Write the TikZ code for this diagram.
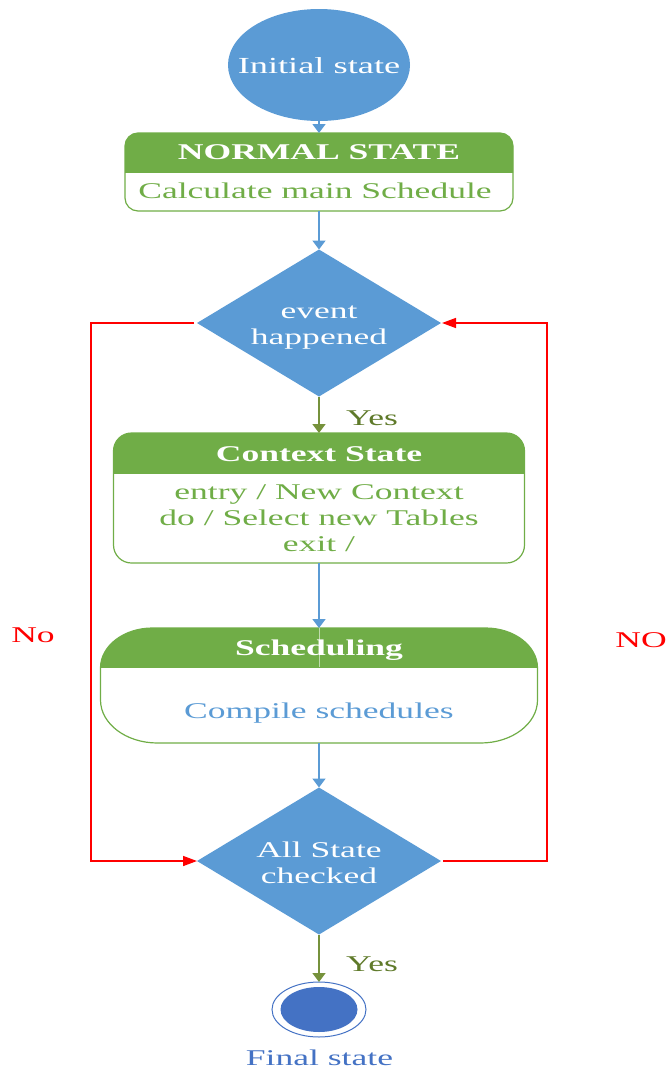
\documentclass[tikz,border=0pt]{standalone}
\usepackage{fontspec}
\setmainfont[FakeStretch=1.58]{Liberation Serif}
\usetikzlibrary{shapes.geometric,arrows.meta}
\definecolor{sblue}{HTML}{5B9BD5}
\definecolor{sgreen}{HTML}{70AD47}
\definecolor{dblue}{HTML}{4472C4}
\definecolor{olivearr}{HTML}{76923C}
\definecolor{olivetxt}{HTML}{5F7A2A}
\definecolor{sred}{HTML}{FF0000}
\begin{document}
\begin{tikzpicture}[x=1pt,y=-1pt,
  every node/.style={font=\fontsize{22.5}{26}\selectfont, inner sep=0pt, outer sep=0pt},
  box/.style={draw=none, inner sep=0pt},
  boxline/.style={draw=sgreen, line width=1.2pt},
  whitetxt/.style={text=white},
  headtxt/.style={text=white, font=\fontsize{22.5}{26}\selectfont\bfseries},
  greentxt/.style={text=sgreen, align=center},
  dia/.style={diamond, fill=sblue, aspect=1.66, minimum width=244pt, minimum height=147pt},
  barrow/.style={draw=sblue, line width=1.5pt, -{Triangle[length=9pt,width=13pt]}},
  oarrow/.style={draw=olivearr, line width=1.5pt, -{Triangle[length=9pt,width=13pt]}},
  rarrow/.style={draw=sred, line width=1.5pt, -{Triangle[length=14pt,width=10pt]}},
  yeslbl/.style={text=olivetxt},
  redlbl/.style={text=sred}
]
\useasboundingbox (0,0) rectangle (668,1068);

% initial state
\node[ellipse, fill=sblue, minimum width=182pt, minimum height=112pt] (init) at (319,65) {};
\node[whitetxt, font=\fontsize{23}{26}\selectfont] (initT) at (319,66) {Initial state};

% normal state
\node[box, minimum width=388pt, minimum height=78pt] (normal) at (319,172) {};
\begin{scope}
  \clip (100,120) rectangle (540,172);
  \fill[sgreen, rounded corners=13pt] (normal.north west) rectangle (normal.south east);
\end{scope}
\draw[boxline, rounded corners=13pt] (normal.north west) rectangle (normal.south east);
\node[headtxt] (normalH) at (319,152) {NORMAL STATE};
\node[greentxt] (normalB) at (315,191) {Calculate main Schedule};

% decision 1
\node[dia] (d1) at (319,323) {};
\node[whitetxt, align=center] (d1T) at (319,328) {event\\happened};

% context state
\node[box, minimum width=411pt, minimum height=130pt] (context) at (319,498) {};
\begin{scope}
  \clip (100,420) rectangle (540,473);
  \fill[sgreen, rounded corners=18pt] (context.north west) rectangle (context.south east);
\end{scope}
\draw[boxline, rounded corners=18pt] (context.north west) rectangle (context.south east);
\node[headtxt] (contextH) at (319,454) {Context State};
\node[greentxt] (contextB) at (319,518.5) {entry / New Context\\do / Select new Tables\\exit /};

% scheduling
\node[box, minimum width=437pt, minimum height=115pt] (sched) at (319,685.5) {};
\def\schedpath{(100.5,668) arc[start angle=180,end angle=270,x radius=52,y radius=40]
  -- (485.5,628) arc[start angle=270,end angle=360,x radius=52,y radius=40]
  -- (537.5,700) arc[start angle=0,end angle=90,x radius=57,y radius=43]
  -- (157.5,743) arc[start angle=90,end angle=180,x radius=57,y radius=43] -- cycle}
\begin{scope}
  \clip (90,620) rectangle (550,667);
  \fill[sgreen] \schedpath;
\end{scope}
\draw[boxline] \schedpath;
\draw[sgreen!45!white, line width=0.7pt] (sched.north) -- (319,667);
\node[headtxt] (schedH) at (319,650.5) {Scheduling};
\node[text=sblue] (schedB) at (319,713.5) {Compile schedules};

% decision 2
\node[dia] (d2) at (319,861) {};
\node[whitetxt, align=center] (d2T) at (319,863) {All State\\checked};

% final state
\node[ellipse, draw=dblue, line width=1pt, minimum width=94pt, minimum height=55pt] (final) at (319,1009.5) {};
\node[ellipse, fill=dblue, minimum width=77pt, minimum height=45pt] (finalIn) at (319,1009.5) {};
\node[text=dblue] (finalT) at (319.5,1057.5) {Final state};

% labels
\node[yeslbl] (yes1) at (372,418) {Yes};
\node[yeslbl] (yes2) at (372,964) {Yes};
\node[redlbl] (no1) at (33,635) {No};
\node[redlbl] (no2) at (641,640) {NO};

% connectors
\draw[barrow] (init.south) -- (normal.north);
\draw[barrow] (normal.south) -- (d1.north);
\draw[oarrow] (d1.south) -- (context.north);
\draw[barrow] (context.south) -- (sched.north);
\draw[barrow] (sched.south) -- (d2.north);
\draw[oarrow] (d2.south) -- (final.north);

\coordinate (lx) at (91,0);
\coordinate (rx) at (547,0);
\draw[rarrow] ([xshift=-3pt]d1.west) -- (d1.west -| lx) -- (d2.west -| lx) -- (d2.west);
\draw[rarrow] ([xshift=2pt]d2.east) -- (d2.east -| rx) -- (d1.east -| rx) -- ([xshift=1pt]d1.east);
\end{tikzpicture}
\end{document}
